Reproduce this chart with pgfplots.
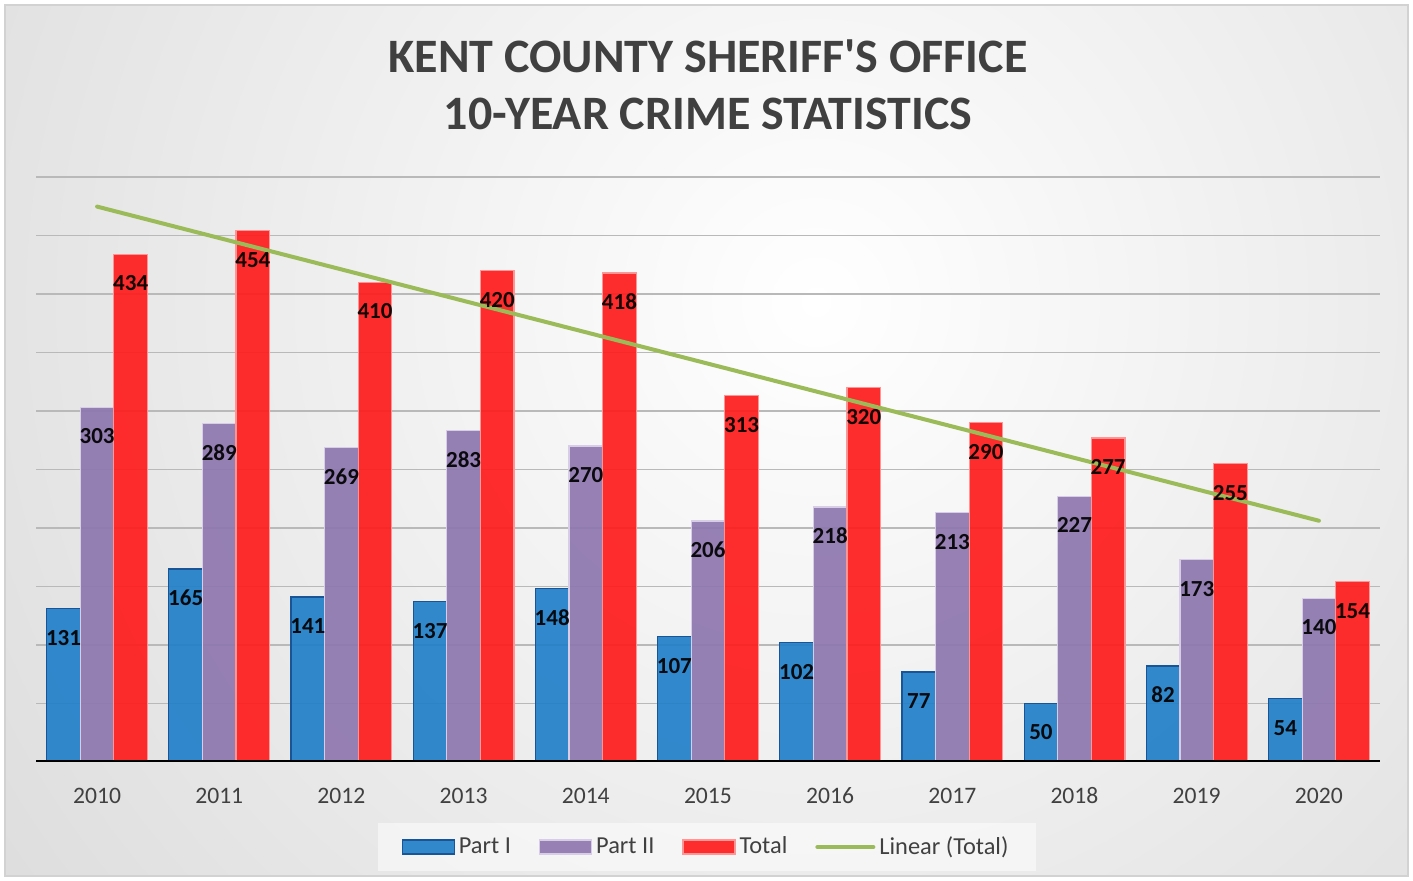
\documentclass[border=0pt]{standalone}
\usepackage{fontspec}
\setmainfont{Carlito}
\usepackage{pgfplots}
\pgfplotsset{compat=1.18}

\definecolor{partone}{RGB}{33,128,201}
\definecolor{partoneedge}{RGB}{25,85,150}
\definecolor{parttwo}{RGB}{142,119,175}
\definecolor{parttwoedge}{RGB}{215,205,230}
\definecolor{total}{RGB}{255,28,28}
\definecolor{totaledge}{RGB}{255,150,150}
\definecolor{trend}{RGB}{155,187,89}
\definecolor{txt}{RGB}{64,64,64}
\definecolor{bggray}{RGB}{200,200,200}

\pgfplotsset{
  barlegend/.style={legend image code/.code={\draw[##1] (0pt,-3.5pt) rectangle (26pt,3.5pt);}},
  linelegend/.style={legend image code/.code={\draw[##1, line cap=round] (0pt,0pt) -- (28pt,0pt);}},
}

\begin{document}
\begin{tikzpicture}
\useasboundingbox (-18pt,-59.5pt) rectangle (688.5pt,381pt);
\fill[white] (-18pt,-59.5pt) rectangle (688.5pt,381pt);
\begin{scope}
  \clip (-15.5pt,-57pt) rectangle (686pt,378.5pt);
  \fill[bggray] (-15.5pt,-57pt) rectangle (686pt,378.5pt);
  \shade[inner color=white, outer color=bggray] (390pt,230pt) circle (820pt);
\end{scope}
\draw[gray!35, line width=0.6pt] (-15.5pt,-57pt) rectangle (686pt,378.5pt);

\node[font=\bfseries\fontsize{24}{28}\selectfont, text=txt] at (336pt,353pt) {KENT COUNTY SHERIFF\textquotesingle S OFFICE};
\node[font=\bfseries\fontsize{24}{28}\selectfont, text=txt] at (336pt,324pt) {10-YEAR CRIME STATISTICS};

\begin{axis}[
  scale only axis,
  width=672pt, height=292.5pt,
  xmin=2009.5, xmax=2020.5,
  ymin=0, ymax=500,
  ybar, bar width=0.275,
  xtick={2010,...,2020},
  ytick={50,100,...,500},
  yticklabels={},
  ymajorgrids,
  major grid style={draw=gray!55, line width=0.7pt},
  axis line style={draw=none},
  major tick length=0pt,
  /pgf/number format/assume math mode=true,
  /pgf/number format/set thousands separator={},
  typeset ticklabels with strut,
  xticklabel style={font=\fontsize{11.8}{13}\selectfont, text=txt, yshift=-8pt},
  nodes near coords,
  every node near coord/.append style={anchor=center, yshift=-14.5pt, font=\bfseries\fontsize{11.5}{13}\selectfont, text=black},
  legend style={at={(0.4993,-0.1453)}, anchor=center, legend columns=4,
    fill=white, fill opacity=0.5, text opacity=1, draw=none,
    font=\fontsize{12.2}{14}\selectfont, text=txt,
    inner xsep=12pt, inner ysep=5pt,
    /tikz/every even column/.append style={column sep=12pt}},
]
\addplot[fill=partone, draw=partoneedge, line width=0.6pt, fill opacity=0.92, bar shift=-0.275, barlegend]
  coordinates {(2010,131) (2011,165) (2012,141) (2013,137) (2014,148) (2015,107) (2016,102) (2017,77) (2018,50) (2019,82) (2020,54)};
\addlegendentry{Part I}
\addplot[fill=parttwo, draw=parttwoedge, line width=0.6pt, fill opacity=0.92, bar shift=0, barlegend]
  coordinates {(2010,303) (2011,289) (2012,269) (2013,283) (2014,270) (2015,206) (2016,218) (2017,213) (2018,227) (2019,173) (2020,140)};
\addlegendentry{Part II}
\addplot[fill=total, draw=totaledge, line width=0.6pt, fill opacity=0.92, bar shift=0.275, barlegend]
  coordinates {(2010,434) (2011,454) (2012,410) (2013,420) (2014,418) (2015,313) (2016,320) (2017,290) (2018,277) (2019,255) (2020,154)};
\addlegendentry{Total}
\addplot[sharp plot, draw=trend, line width=2pt, line cap=round, nodes near coords={}, linelegend]
  coordinates {(2010,474.7) (2020,206.2)};
\addlegendentry{Linear (Total)}
\draw[black, line width=1.6pt] (rel axis cs:0,0) -- (rel axis cs:1,0);
\end{axis}
\end{tikzpicture}
\end{document}
